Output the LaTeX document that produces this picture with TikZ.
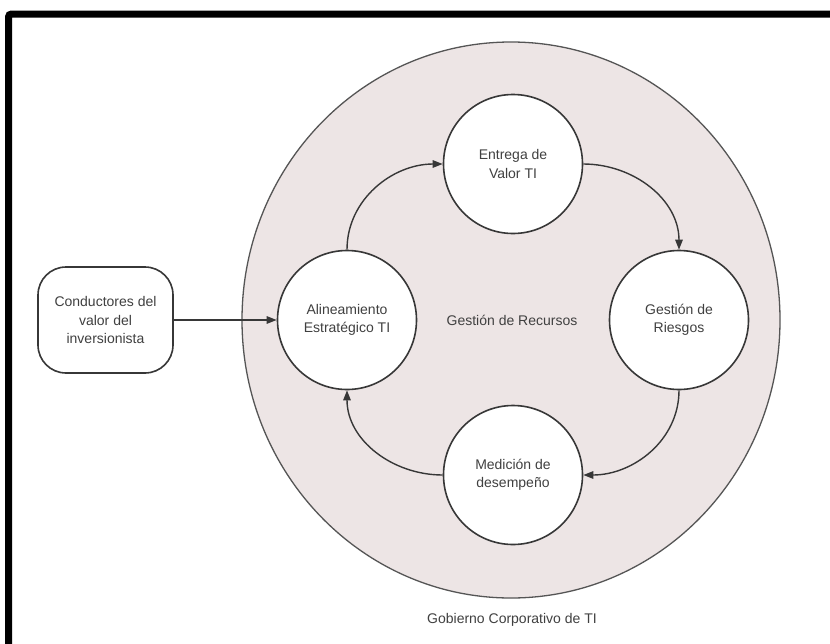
\documentclass[tikz,border=0pt]{standalone}
\usepackage{fontspec}
\setmainfont{Liberation Sans}
\usetikzlibrary{shapes.geometric,arrows.meta}
\definecolor{ringfill}{RGB}{237,229,229}
\definecolor{inkline}{RGB}{55,55,55}
\definecolor{inktext}{RGB}{64,64,64}
\tikzset{
  txt/.style={font=\fontsize{14}{18.5}\selectfont, text=inktext, align=center},
  stage/.style={circle, draw=inkline, line width=1.6pt, fill=white,
                minimum size=139pt, inner sep=0pt, txt},
  driver/.style={rectangle, rounded corners=28pt, draw=inkline, line width=1.6pt,
                 fill=white, minimum width=135pt, minimum height=106pt,
                 inner sep=0pt, txt},
  governance/.style={ellipse, draw=inkline!85, line width=1.3pt, fill=ringfill,
                     minimum width=538pt, minimum height=556pt, inner sep=0pt},
  flow/.style={draw=inkline, line width=1.4pt,
               -{Triangle[length=10pt,width=7.5pt]}},
}
\begin{document}
\begin{tikzpicture}[x=1pt,y=-1pt]
  \useasboundingbox (0,0) rectangle (830,643);
  \clip (0,0) rectangle (830,643);
  \fill[white] (0,0) rectangle (830,643);
  % outer frame (runs past the right and bottom edges)
  \draw[line width=7pt, rounded corners=3pt] (8.5,14) rectangle (860,680);

  % governance area
  \node[governance] (gob) at (511,320) {};
  \node[txt] (goblabel) at (512,620) {Gobierno Corporativo de TI};
  \node[txt] (recursos) at (512,320) {Gestión de Recursos};

  % stages of the cycle
  \node[stage] (al) at (347,320) {Alineamiento\\Estratégico TI};
  \node[stage] (en) at (513,164) {Entrega de\\Valor TI};
  \node[stage] (ri) at (679,320) {Gestión de\\Riesgos};
  \node[stage] (me) at (513,475) {Medición de\\desempeño};

  % external driver
  \node[driver] (cv) at (105.5,320) {Conductores del\\valor del\\inversionista};

  % connectors
  \draw[flow] (cv.east) -- (al.west);
  \draw[flow] (al.north) to[out=90,in=180] (en.west);
  \draw[flow] (en.east) to[out=0,in=90] (ri.north);
  \draw[flow] (ri.south) to[out=-90,in=0] (me.east);
  \draw[flow] (me.west) to[out=180,in=-90] (al.south);
\end{tikzpicture}
\end{document}
